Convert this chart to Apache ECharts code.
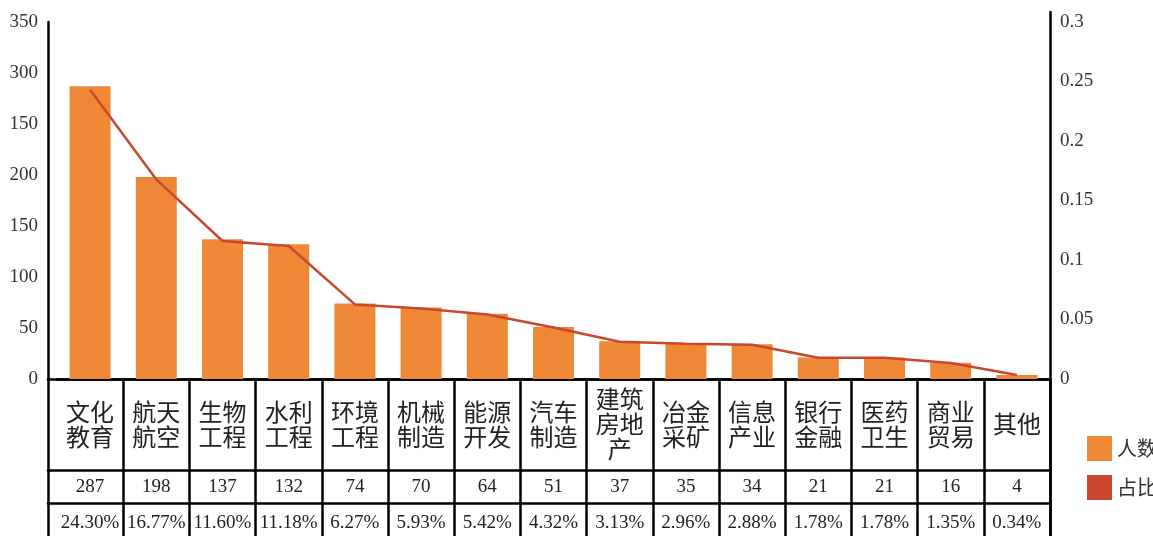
<!DOCTYPE html>
<html>
<head>
<meta charset="utf-8">
<script src="https://cdn.jsdelivr.net/npm/echarts@6/dist/echarts.min.js"></script>
<style>
html,body{margin:0;padding:0;background:#fff;}
#chart{width:1153px;height:536px;}
</style>
</head>
<body>
<div id="chart"></div>
<script>
// ---- data ----
const categories = ['文化\n教育','航天\n航空','生物\n工程','水利\n工程','环境\n工程','机械\n制造','能源\n开发','汽车\n制造','建筑\n房地\n产','冶金\n采矿','信息\n产业','银行\n金融','医药\n卫生','商业\n贸易','其他'];
const counts = [287, 198, 137, 132, 74, 70, 64, 51, 37, 35, 34, 21, 21, 16, 4];
const percents = [24.30, 16.77, 11.60, 11.18, 6.27, 5.93, 5.42, 4.32, 3.13, 2.96, 2.88, 1.78, 1.78, 1.35, 0.34];
const leftTickLabels = ['0', '50', '100', '150', '200', '150', '300', '350'];
const rightTickLabels = ['0', '0.05', '0.1', '0.15', '0.2', '0.25', '0.3'];
const seriesNames = ['人数', '占比'];

// ---- styles ----
const BLACK = '#000';
const LW = 2.5;
const NUM_FONT = '"Liberation Serif", "DejaVu Serif", serif';
const CJK_FONT = '"Noto Sans CJK SC", "Noto Sans", sans-serif';
const BAR_COLOR = '#EF8836';
const LINE_COLOR = '#C9472E';

const ratios = percents.map(p => +(p / 100).toFixed(4));
const countLabels = counts.map(String);
const percentLabels = percents.map(p => p.toFixed(2) + '%');

const chart = echarts.init(document.getElementById('chart'), null, {renderer: 'canvas'});
const hidden = {show: false};
const tableLine = {show: true, onZero: false, lineStyle: {color: BLACK, width: LW}};

chart.setOption({
  animation: false,
  backgroundColor: '#fff',
  grid: [
    {left: 57, right: 103, top: 22, height: 357},
    {left: 48, right: 103, top: 379, height: 220},
    {left: 48, right: 103, top: 12, height: 600}
  ],
  legend: {
    orient: 'vertical',
    left: 1082,
    top: 431,
    itemWidth: 25,
    itemHeight: 25,
    itemGap: 14,
    textStyle: {fontFamily: CJK_FONT, fontSize: 20, color: '#333'},
    data: [{name: seriesNames[0], icon: 'rect'}, {name: seriesNames[1], icon: 'rect'}]
  },
  xAxis: [
    { // main category axis + table column dividers + name row
      type: 'category', gridIndex: 0, data: categories, position: 'bottom',
      axisLine: {show: true, onZero: false, lineStyle: {color: BLACK, width: LW}},
      axisTick: {show: true, length: 175, interval: (i) => i > 0, lineStyle: {color: BLACK, width: LW}},
      axisLabel: {interval: 0, margin: 45, verticalAlign: 'middle', fontFamily: CJK_FONT, fontSize: 24, lineHeight: 25, color: '#222'}
    },
    { // counts row
      type: 'category', gridIndex: 0, data: countLabels, position: 'bottom', offset: 91,
      axisLine: {show: false, onZero: false}, axisTick: hidden,
      axisLabel: {interval: 0, margin: 17, verticalAlign: 'middle', fontFamily: NUM_FONT, fontSize: 19, color: '#222'}
    },
    { // percents row
      type: 'category', gridIndex: 0, data: percentLabels, position: 'bottom', offset: 124,
      axisLine: {show: false, onZero: false}, axisTick: hidden,
      axisLabel: {interval: 0, margin: 20, verticalAlign: 'middle', fontFamily: NUM_FONT, fontSize: 19, color: '#222'}
    },
    {type: 'category', gridIndex: 1, data: categories, position: 'top', offset: 0,
      axisLine: tableLine, axisTick: hidden, axisLabel: hidden},
    {type: 'category', gridIndex: 1, data: categories, position: 'top', offset: -91,
      axisLine: tableLine, axisTick: hidden, axisLabel: hidden},
    {type: 'category', gridIndex: 1, data: categories, position: 'top', offset: -124,
      axisLine: tableLine, axisTick: hidden, axisLabel: hidden},
    {type: 'category', gridIndex: 2, data: categories, show: false}
  ],
  yAxis: [
    {
      type: 'value', gridIndex: 0, min: 0, max: 350, interval: 50, position: 'left', offset: 9,
      axisLine: {show: true, onZero: false, lineStyle: {color: BLACK, width: LW}},
      axisTick: hidden, splitLine: hidden,
      axisLabel: {margin: 10, fontFamily: NUM_FONT, fontSize: 19, color: '#333',
        formatter: (v) => leftTickLabels[Math.round(v / 50)]}
    },
    {
      type: 'value', gridIndex: 0, min: 0, max: 0.3, interval: 0.05, position: 'right',
      axisLine: {show: false, onZero: false}, axisTick: hidden, splitLine: hidden,
      axisLabel: {margin: 10, fontFamily: NUM_FONT, fontSize: 19, color: '#333',
        formatter: (v) => rightTickLabels[Math.round(v / 0.05)]}
    },
    {type: 'value', gridIndex: 1, min: 0, max: 1, position: 'left',
      axisLine: tableLine, axisTick: hidden, axisLabel: hidden, splitLine: hidden},
    {type: 'value', gridIndex: 2, min: 0, max: 1, position: 'right',
      axisLine: tableLine, axisTick: hidden, axisLabel: hidden, splitLine: hidden}
  ],
  series: [
    {
      name: seriesNames[0], type: 'bar', xAxisIndex: 0, yAxisIndex: 0,
      data: counts, barWidth: 41,
      itemStyle: {color: BAR_COLOR}
    },
    {
      name: seriesNames[1], type: 'line', xAxisIndex: 0, yAxisIndex: 1,
      data: ratios, symbol: 'none', smooth: false,
      lineStyle: {color: LINE_COLOR, width: 2.5},
      itemStyle: {color: LINE_COLOR}
    }
  ]
});
</script>
</body>
</html>
